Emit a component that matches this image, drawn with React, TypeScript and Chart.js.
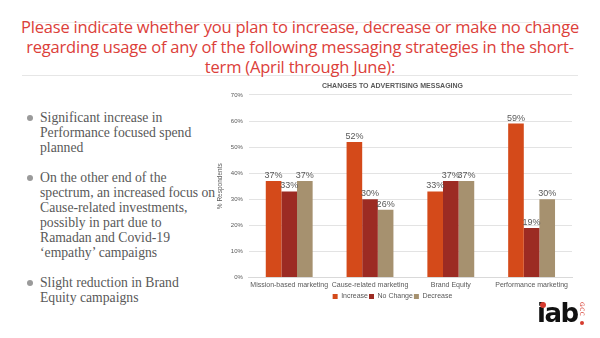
import React, { useEffect, useRef } from "react";
import { Chart, registerables } from "chart.js";
Chart.register(...registerables);

const categories = ["Mission-based marketing", "Cause-related marketing", "Brand Equity", "Performance marketing"];
const increase = [37, 52, 33, 59];
const noChange = [33, 30, 37, 19];
const decrease = [37, 26, 37, 30];
const seriesNames = ["Increase", "No Change", "Decrease"];
const seriesColors = ["#D44A1A", "#9C2B23", "#A6916F"];
const titleLines = [
  "Please indicate whether you plan to increase, decrease or make no change",
  "regarding usage of any of the following messaging strategies in the short-",
  "term (April through June):",
];
const bullets = [
  ["Significant increase in", "Performance focused spend", "planned"],
  ["On the other end of the", "spectrum, an increased focus on", "Cause-related investments,", "possibly in part due to", "Ramadan and Covid-19", "\u2018empathy\u2019 campaigns"],
  ["Slight reduction in Brand", "Equity campaigns"],
];

const FONT = "'Liberation Sans', Arial, sans-serif";

const labelPlugin = {
  id: "valueLabels",
  afterDatasetsDraw(chart: any) {
    const ctx = chart.ctx;
    ctx.save();
    ctx.fillStyle = "#595959";
    ctx.font = "9px " + FONT;
    ctx.textAlign = "center";
    ctx.textBaseline = "bottom";
    chart.data.datasets.forEach((ds: any, i: number) => {
      const meta = chart.getDatasetMeta(i);
      meta.data.forEach((bar: any, j: number) => {
        ctx.fillText(ds.data[j] + "%", bar.x, bar.y - 1);
      });
    });
    ctx.restore();
  },
};

function BarChart() {
  const ref = useRef<HTMLCanvasElement | null>(null);
  useEffect(() => {
    if (!ref.current) return;
    const chart = new Chart(ref.current, {
      type: "bar",
      data: {
        labels: categories,
        datasets: [increase, noChange, decrease].map((d, i) => ({
          label: seriesNames[i],
          data: d,
          backgroundColor: seriesColors[i],
          categoryPercentage: 0.58,
          barPercentage: 1,
        })),
      },
      plugins: [labelPlugin],
      options: {
        animation: false,
        responsive: false,
        maintainAspectRatio: false,
        layout: { padding: { left: 0, right: 26, top: 0, bottom: 0 } },
        plugins: {
          title: {
            display: true,
            text: "CHANGES TO ADVERTISING MESSAGING",
            color: "#595959",
            font: { family: FONT, size: 7, weight: "bold" },
            padding: { top: 2, bottom: 4.5 },
          },
          legend: {
            position: "bottom",
            labels: {
              boxWidth: 5,
              boxHeight: 5,
              padding: 1,
              color: "#595959",
              font: { family: FONT, size: 7 },
            },
          },
          tooltip: { enabled: false },
        },
        scales: {
          x: {
            grid: { display: false, drawTicks: false },
            border: { color: "#d9d9d9" },
            ticks: { color: "#595959", font: { family: FONT, size: 7 }, maxRotation: 0, autoSkip: false, padding: 3 },
          },
          y: {
            min: 0,
            max: 70,
            ticks: {
              stepSize: 10,
              color: "#595959",
              font: { family: FONT, size: 6 },
              callback: (v: any) => v + "%",
              padding: 6,
            },
            grid: { color: "#e3e3e3", drawTicks: false },
            border: { display: false },
            title: {
              display: true,
              text: "% Respondents",
              color: "#595959",
              font: { family: FONT, size: 6.5 },
              padding: { top: 3, bottom: 1 },
            },
          },
        },
      },
    });
    return () => chart.destroy();
  }, []);
  return <canvas ref={ref} width={385} height={230} style={{ width: 385, height: 230 }} />;
}

export default function App() {
  return (
    <div style={{ position: "fixed", left: 0, top: 0, width: 600, height: 338, background: "#fff", overflow: "hidden" }}>
      <div style={{ position: "absolute", left: 22, top: 22, width: 556, height: 1, background: "#ececec" }} />
      <div style={{ position: "absolute", left: 22, top: 75, width: 556, height: 1, background: "#e6e6e6" }} />
      <div
        style={{
          position: "absolute",
          left: 0,
          top: 17,
          width: 600,
          textAlign: "center",
          color: "#DC403A",
          fontFamily: "'Open Sans', 'Noto Sans', sans-serif",
          fontSize: 16.5,
          lineHeight: "20px",
          letterSpacing: "-0.2px",
        }}
      >
        {titleLines.map((l, i) => (
          <div key={i}>{l}</div>
        ))}
      </div>
      <div style={{ position: "absolute", left: 26, top: 110, fontFamily: "'Liberation Serif', serif", color: "#595959", fontSize: 13.7, lineHeight: "15px" }}>
        {bullets.map((b, i) => (
          <div key={i} style={{ position: "relative", paddingLeft: 14, marginBottom: 15 }}>
            <span style={{ position: "absolute", left: 1, top: 5, width: 6, height: 6, borderRadius: "50%", background: "#9a9a9a" }} />
            {b.map((l, k) => (
              <div key={k} style={{ whiteSpace: "nowrap" }}>{l}</div>
            ))}
          </div>
        ))}
      </div>
      <div style={{ position: "absolute", left: 213, top: 80 }}>
        <BarChart />
      </div>
      <div style={{ position: "absolute", left: 537, top: 298, fontFamily: "'DejaVu Sans', sans-serif", fontWeight: "bold", fontSize: 26, color: "#111", letterSpacing: "-1.5px" }}>
        iab
      </div>
      <div style={{ position: "absolute", left: 540, top: 302, width: 6, height: 6, borderRadius: "50%", background: "#D63B2F" }} />
      <div style={{ position: "absolute", left: 580, top: 321, width: 4, height: 4, borderRadius: "50%", background: "#D63B2F" }} />
      <div style={{ position: "absolute", left: 578, top: 302, fontFamily: "'DejaVu Sans', sans-serif", fontSize: 6, color: "#D63B2F", transform: "rotate(90deg)", transformOrigin: "left top", letterSpacing: "0.5px", marginLeft: 8 }}>
        GCC
      </div>
    </div>
  );
}
